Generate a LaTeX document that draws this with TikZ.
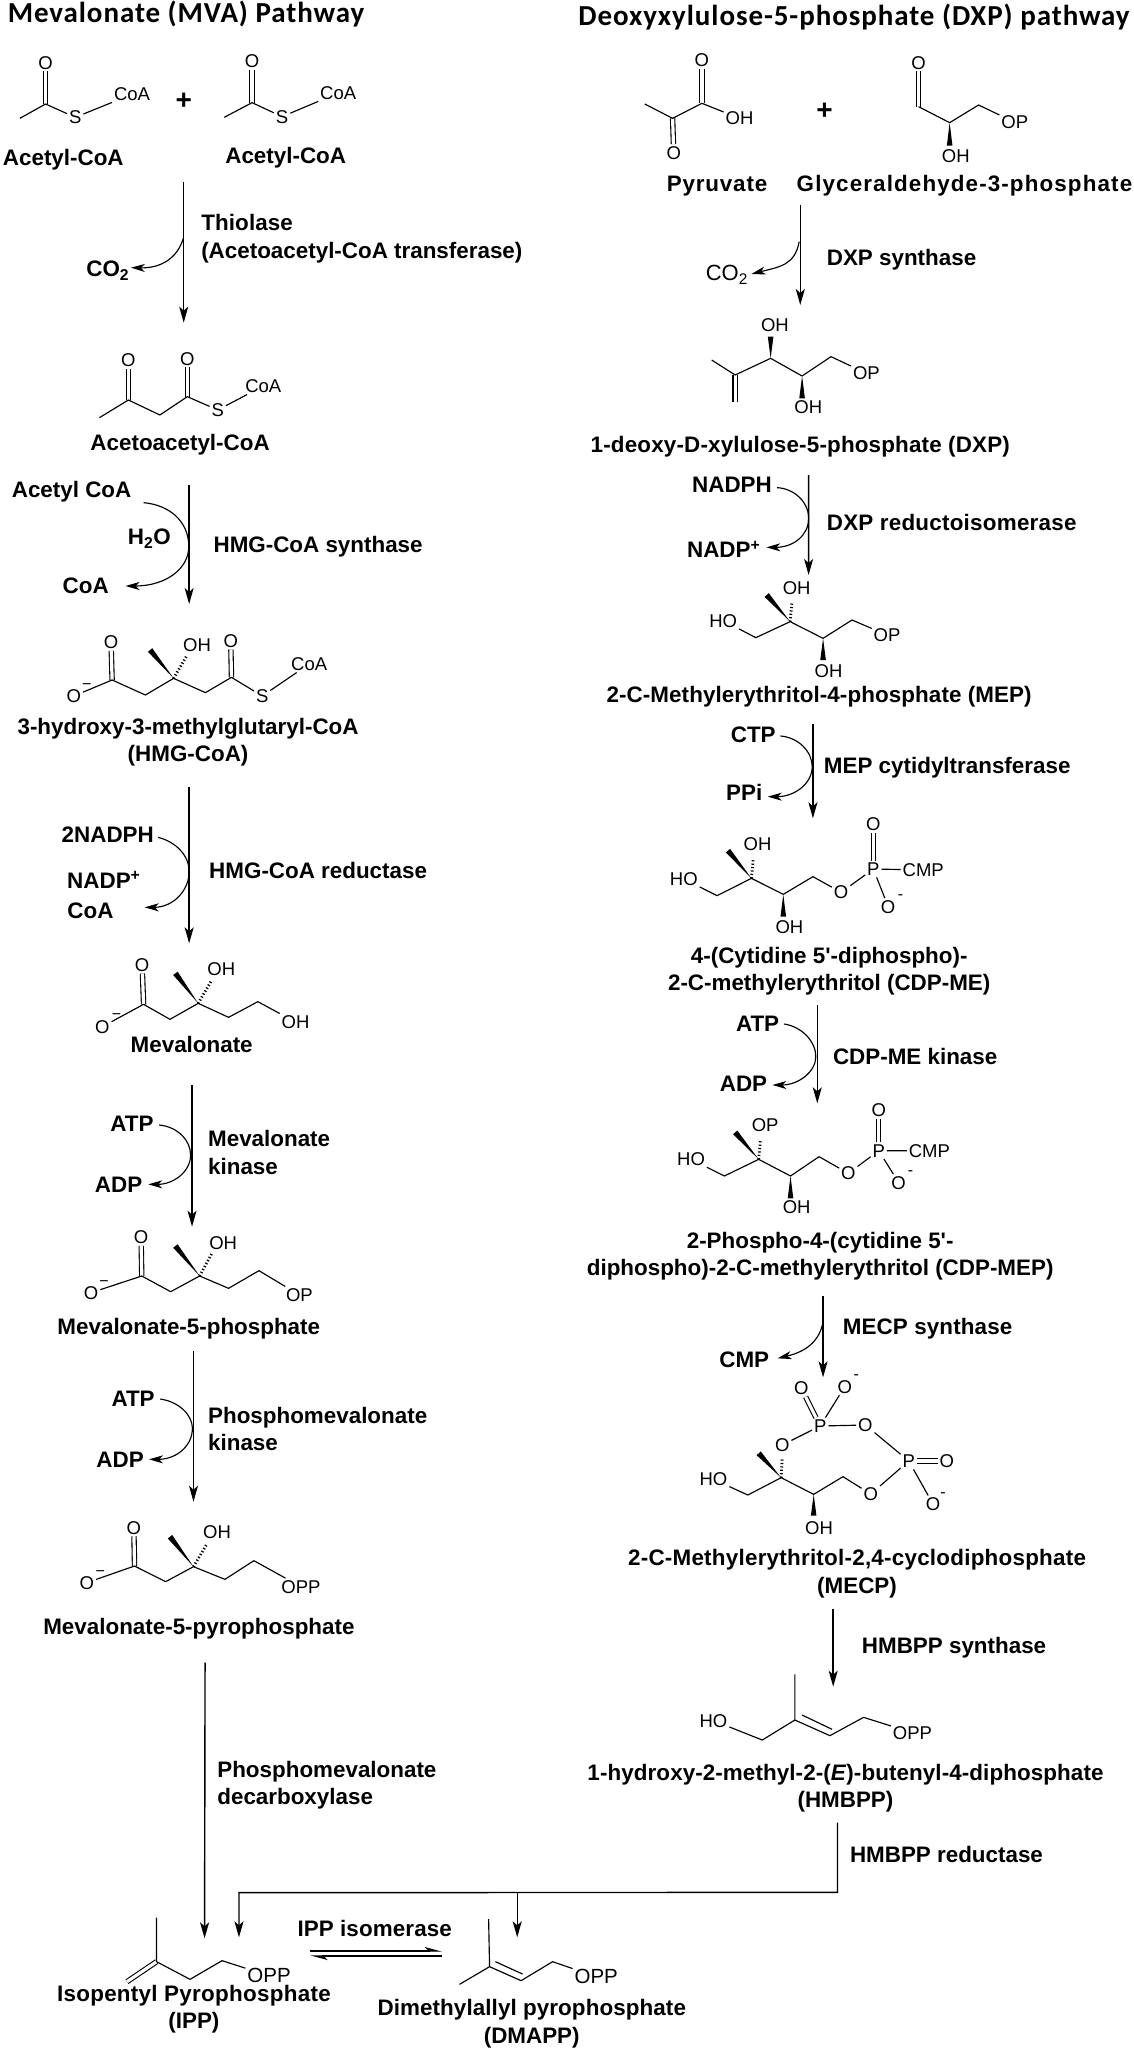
\documentclass[tikz,border=0pt]{standalone}
\usepackage{fontspec}
\setmainfont{Liberation Sans}
\newfontfamily\hdrfont{Carlito}[LetterSpace=3.2]
\usetikzlibrary{arrows.meta,calc}
\newcommand\atm[3]{\node[atom] (#1) at (#2) {#3};}
\newcommand\cpt[2]{\coordinate (#1) at (#2);}
\newcommand\wdg[2]{\fill (#1) -- ($(#2)!2.8pt!90:(#1)$) -- ($(#2)!2.8pt!-90:(#1)$) -- cycle;}
\newcommand\lsp[1]{\addfontfeature{LetterSpace=#1}}
\tikzset{
  zA/.style={x=0.36166pt,y=-0.33333pt},
  zB/.style={x=0.48473pt,y=-0.33333pt},
  zC/.style={x=0.33333pt,y=-0.33333pt},
  atom/.style={font=\fontsize{18.5}{20}\selectfont,inner sep=0pt,outer sep=2pt},
  atomb/.style={atom,font=\fontsize{20.5}{22}\selectfont},
  chg/.style={font=\fontsize{16}{18}\selectfont,inner sep=0pt},
  lbl/.style={font=\fontsize{22.4}{27.5}\selectfont\bfseries,inner sep=0pt,align=center},
  lblw/.style={lbl,anchor=west,align=left},
  hdr/.style={font=\fontsize{29}{32}\selectfont\hdrfont\bfseries,inner sep=0pt},
  bond/.style={line width=1.15pt,line join=round},
  dbl/.style={double,double distance=3.2pt,line width=1.1pt},
  hashb/.style={line width=2.8pt,dash pattern=on 1.2pt off 2.2pt},
  rxn/.style={line width=1.4pt,-{Stealth[length=16pt,width=9pt,inset=4pt]}},
  side/.style={line width=1.15pt,-{Stealth[length=14pt,width=8pt,inset=4pt]}},
  eqm/.style={line width=1.3pt,-{Stealth[harpoon,length=15pt,width=8pt,inset=4pt]}},
}
\begin{document}
\begin{tikzpicture}[x=1pt,y=-1pt]
\useasboundingbox (0,0) rectangle (1134,2050);
\fill[white] (0,0) rectangle (1134,2050);
\node[hdr] (hl) at (186,14) {Mevalonate (MVA) Pathway};
\node[hdr] (hr) at (854,17) {Deoxyxylulose-5-phosphate (DXP) pathway};

% ---------- frame 1: top left
\begin{scope}[zA]
\atm{a1o}{126,188}{O}\cpt{a1c}{126,312}\cpt{a1m}{55,355}\atm{a1s}{208,352}{S}\atm{a1r}{365,283}{CoA}
\draw[dbl] (a1c) -- (a1o); \draw[bond] (a1m) -- (a1c) -- (a1s) -- (a1r);
\atm{a2o}{697,184}{O}\cpt{a2c}{697,308}\cpt{a2m}{620,352}\atm{a2s}{780,350}{S}\atm{a2r}{935,279}{CoA}
\draw[dbl] (a2c) -- (a2o); \draw[bond] (a2m) -- (a2c) -- (a2s) -- (a2r);
\node[lbl,font=\fontsize{28}{30}\selectfont\bfseries] (plus1) at (508,303) {+};
\node[lbl] (l1) at (175,478) {Acetyl-CoA};
\node[lbl] (l2) at (790,472) {Acetyl-CoA};
\cpt{r1s}{508,547}\cpt{r1e}{508,968}\cpt{r1b}{507,715}
\node[lbl] (co2a) at (298,812) {CO\textsubscript{2}};
\cpt{r1t}{362,803}
\draw[rxn] (r1s) -- (r1e);
\draw[side] (r1b) .. controls (490,775) and (445,805) .. (r1t);
\node[lblw] (e1) at (556,716) {\lsp{0.5}Thiolase\\(Acetoacetyl-CoA transferase)};
\atm{b1o}{355,1080}{O}\cpt{b1c}{355,1200}\cpt{b1m}{275,1253}\cpt{b1d}{442,1245}\cpt{b1e}{518,1190}
\atm{b2o}{518,1076}{O}\atm{b1s}{602,1230}{S}\atm{b1r}{728,1158}{CoA}
\draw[dbl] (b1c) -- (b1o); \draw[dbl] (b1e) -- (b2o);
\draw[bond] (b1m) -- (b1c) -- (b1d) -- (b1e) -- (b1s) -- (b1r);
\node[lbl] (l3) at (498,1333) {Acetoacetyl-CoA};
\cpt{r2s}{523,1455}
\node[lbl] (acc) at (198,1475) {Acetyl CoA};
\end{scope}

% ---------- frame 3: left, y from 500
\begin{scope}[shift={(0,500)},zA]
\cpt{r2e}{523,312}\draw[rxn] (r2s) -- (r2e);
\cpt{r2a}{397,8}\cpt{r2m}{522,140}\cpt{r2t}{347,258}
\draw[side] (r2a) .. controls (470,15) and (522,65) .. (r2m) .. controls (522,205) and (460,258) .. (r2t);
\node[lbl] (h2o) at (413,117) {H\textsubscript{2}O};
\node[lbl] (coa2) at (237,256) {CoA};
\node[lblw] (e2) at (590,140) {HMG-CoA synthase};
\atm{c1o}{307,427}{O}\cpt{c1c}{310,540}\atm{c1n}{204,588}{O}\node[chg] (c1g) at (240,560) {−};
\cpt{c1d}{402,585}\cpt{c1q}{480,535}\cpt{c1w}{415,450}\cpt{c1h}{515,470}\atm{c1h2}{545,435}{OH}
\cpt{c1f}{568,578}\cpt{c1k}{640,532}\atm{c2o}{638,423}{O}\atm{c1s}{725,588}{S}\atm{c1r}{855,492}{CoA}
\draw[dbl] (c1c) -- (c1o); \draw[dbl] (c1k) -- (c2o);
\draw[bond] (c1n) -- (c1c) -- (c1d) -- (c1q) -- (c1f) -- (c1k) -- (c1s) -- (c1r);
\wdg{c1q}{c1w} \draw[hashb] (c1q) -- (c1h);
\node[lbl] (l4) at (520,726) {3-hydroxy-3-methylglutaryl-CoA\\(HMG-CoA)};
\cpt{r3s}{523,862}\cpt{r3e}{523,1330}\draw[rxn] (r3s) -- (r3e);
\node[lbl] (nadph1) at (298,1003) {2NADPH};
\cpt{r3a}{437,1012}\cpt{r3m}{523,1115}\cpt{r3t}{400,1222}
\draw[side] (r3a) .. controls (485,1025) and (523,1065) .. (r3m) .. controls (523,1170) and (480,1222) .. (r3t);
\node[lbl] (nadp1) at (287,1140) {NADP\textsuperscript{+}};
\node[lbl] (coa3) at (250,1233) {CoA};
\node[lblw] (e3) at (578,1110) {HMG-CoA reductase};
\end{scope}

% ---------- mevalonate, y from 940
\begin{scope}[shift={(0,940)},zA]
\atm{d1o}{393,75}{O}\cpt{d1c}{397,193}\atm{d1n}{283,260}{O}\node[chg] (d1g) at (322,230) {−};
\cpt{d1d}{470,238}\cpt{d1q}{548,190}\cpt{d1w}{485,100}\cpt{d1h}{583,125}\atm{d1h2}{612,88}{OH}
\cpt{d1f}{632,232}\cpt{d1k}{713,185}\atm{d1e}{817,246}{OH}
\draw[dbl] (d1c) -- (d1o);
\draw[bond] (d1n) -- (d1c) -- (d1d) -- (d1q) -- (d1f) -- (d1k) -- (d1e);
\wdg{d1q}{d1w} \draw[hashb] (d1q) -- (d1h);
\node[lbl] (l5) at (530,312) {Mevalonate};
\end{scope}

% ---------- frame 5: left, y from 1000
\begin{scope}[shift={(0,1000)},zA]
\cpt{r4s}{531,255}\cpt{r4e}{531,680}\draw[rxn] (r4s) -- (r4e);
\node[lbl] (atp1) at (365,370) {ATP};
\cpt{r4a}{440,375}\cpt{r4m}{527,465}\cpt{r4t}{410,553}
\draw[side] (r4a) .. controls (490,380) and (527,420) .. (r4m) .. controls (527,515) and (480,553) .. (r4t);
\node[lbl] (adp1) at (328,553) {ADP};
\node[lblw] (e4) at (575,458) {Mevalonate\\kinase};
\atm{f1o}{390,712}{O}\cpt{f1c}{392,828}\atm{f1n}{252,878}{O}\node[chg] (f1g) at (288,850) {−};
\cpt{f1d}{472,875}\cpt{f1q}{552,828}\cpt{f1w}{485,738}\cpt{f1h}{585,762}\atm{f1h2}{617,728}{OH}
\cpt{f1f}{632,865}\cpt{f1k}{716,812}\atm{f1e}{828,885}{OP}
\draw[dbl] (f1c) -- (f1o);
\draw[bond] (f1n) -- (f1c) -- (f1d) -- (f1q) -- (f1f) -- (f1k) -- (f1e);
\wdg{f1q}{f1w} \draw[hashb] (f1q) -- (f1h);
\node[lbl] (l6) at (522,985) {Mevalonate-5-phosphate};
\end{scope}

% ---------- frame 9: left, y from 1340
\begin{scope}[shift={(0,1340)},zA]
\cpt{r5s}{535,33}\cpt{r5e}{535,485}\draw[rxn] (r5s) -- (r5e);
\node[lbl] (atp2) at (368,175) {ATP};
\cpt{r5a}{443,177}\cpt{r5m}{532,265}\cpt{r5t}{412,358}
\draw[side] (r5a) .. controls (495,185) and (532,225) .. (r5m) .. controls (532,320) and (485,358) .. (r5t);
\node[lbl] (adp2) at (332,358) {ADP};
\node[lblw] (e5) at (575,267) {Phosphomevalonate\\kinase};
\atm{g1o}{370,563}{O}\cpt{g1c}{372,678}\atm{g1n}{240,728}{O}\node[chg] (g1g) at (277,700) {−};
\cpt{g1d}{458,725}\cpt{g1q}{535,680}\cpt{g1w}{470,590}\cpt{g1h}{572,612}\atm{g1h2}{600,577}{OH}
\cpt{g1f}{622,718}\cpt{g1k}{702,662}\atm{g1e}{832,740}{OPP}
\draw[dbl] (g1c) -- (g1o);
\draw[bond] (g1n) -- (g1c) -- (g1d) -- (g1q) -- (g1f) -- (g1k) -- (g1e);
\wdg{g1q}{g1w} \draw[hashb] (g1q) -- (g1h);
\node[lbl] (l7) at (550,867) {Mevalonate-5-pyrophosphate};
\cpt{r6s}{567,968}
\end{scope}

% ---------- frame 2: top right
\begin{scope}[shift={(567,0)},zA]
\atm{p1o}{373,180}{O}\cpt{p1c}{373,310}\cpt{p1m}{215,312}\cpt{p1k}{292,355}\atm{p2o}{295,458}{O}\atm{p1h}{477,355}{OH}
\draw[dbl] (p1c) -- (p1o); \draw[dbl] (p1k) -- (p2o);
\draw[bond] (p1m) -- (p1k) -- (p1c) -- (p1h);
\node[lbl,font=\fontsize{28}{30}\selectfont\bfseries] (plus2) at (712,333) {+};
\atm{q1o}{972,188}{O}\cpt{q1c}{972,320}\cpt{q1q}{1058,368}\cpt{q1w}{1058,437}\atm{q1h}{1075,467}{OH}
\cpt{q1k}{1138,315}\atm{q1e}{1238,367}{OP}
\draw[dbl] (q1c) -- (q1o);
\draw[bond] (q1c) -- (q1q) -- (q1k) -- (q1e);
\wdg{q1q}{q1w}
\node[lbl] (l8) at (415,558) {\lsp{3.6}Pyruvate};
\node[lbl] (l9) at (1099,558) {\lsp{5}Glyceraldehyde-3-phosphate};
\cpt{s1s}{645,615}\cpt{s1e}{645,915}\draw[rxn] (s1s) -- (s1e);
\node[atomb,font=\fontsize{22}{24}\selectfont,outer sep=0pt] (co2b) at (442,825) {CO\textsubscript{2}};
\cpt{s1b}{642,725}\cpt{s1t}{510,822}
\draw[side] (s1b) .. controls (630,795) and (590,800) .. (s1t);
\node[lblw] (e6) at (718,780) {DXP synthase};
\atm{t1h}{575,975}{OH}\cpt{t1w}{563,1010}\cpt{t1q}{563,1075}\cpt{t1m}{400,1080}\cpt{t1k}{465,1125}\cpt{t1d}{465,1205}
\cpt{t1r}{650,1128}\cpt{t1v}{650,1195}\atm{t2h}{667,1222}{OH}\cpt{t1f}{730,1070}\atm{t1e}{828,1120}{OP}
\draw[dbl] (t1k) -- (t1d);
\draw[bond] (t1m) -- (t1k) -- (t1q) -- (t1r) -- (t1f) -- (t1e);
\wdg{t1q}{t1w} \wdg{t1r}{t1v}
\node[lbl] (l10) at (645,1340) {\lsp{0.8}1-deoxy-D-xylulose-5-phosphate (DXP)};
\end{scope}

% ---------- frame 12
\begin{scope}[shift={(567,460)},zC]
\cpt{s2s}{725,45}
\node[lbl] (nadph2) at (495,75) {NADPH};
\cpt{s2a}{630,83}\cpt{s2m}{725,175}\cpt{s2t}{598,262}
\draw[side] (s2a) .. controls (680,85) and (725,125) .. (s2m) .. controls (725,225) and (680,262) .. (s2t);
\node[lbl] (nadp2) at (470,268) {NADP\textsuperscript{+}};
\end{scope}

% ---------- frame 4: right, y from 500
\begin{scope}[shift={(567,500)},zA]
\cpt{s2e}{668,225}\draw[rxn] (s2s) -- (s2e);
\node[lblw] (e7) at (718,68) {\lsp{1.1}DXP reductoisomerase};
\atm{u1h}{635,265}{OH}\cpt{u1u}{622,305}\cpt{u1q}{617,365}\cpt{u1w}{552,285}\atm{u1a}{432,362}{HO}\cpt{u1d}{522,413}
\cpt{u1r}{708,415}\cpt{u1v}{708,480}\atm{u2h}{723,512}{OH}\cpt{u1f}{788,360}\atm{u1e}{885,405}{OP}
\draw[bond] (u1a) -- (u1d) -- (u1q) -- (u1r) -- (u1f) -- (u1e);
\wdg{u1q}{u1w} \wdg{u1r}{u1v} \draw[hashb] (u1q) -- (u1u);
\node[lbl] (l11) at (697,590) {\lsp{0.4}2-C-Methylerythritol-4-phosphate (MEP)};
\cpt{s3s}{680,673}\cpt{s3e}{680,955}\draw[rxn] (s3s) -- (s3e);
\node[lbl] (ctp) at (515,703) {CTP};
\cpt{s3a}{590,708}\cpt{s3m}{678,800}\cpt{s3t}{555,890}
\draw[side] (s3a) .. controls (640,712) and (678,755) .. (s3m) .. controls (678,850) and (630,890) .. (s3t);
\node[lbl] (ppi) at (490,877) {PPi};
\node[lblw] (e8) at (710,803) {MEP cytidyltransferase};
\atm{v1h}{527,1032}{OH}\cpt{v1u}{515,1075}\cpt{v1q}{510,1135}\cpt{v1w}{445,1052}\atm{v1a}{323,1137}{HO}\cpt{v1d}{415,1187}
\cpt{v1r}{598,1183}\cpt{v1v}{598,1250}\atm{v2h}{615,1280}{OH}\cpt{v1f}{680,1130}\atm{v1o}{758,1177}{O}
\atm{v1p}{847,1107}{P}\atm{v2o}{847,973}{O}\atm{v1m}{985,1110}{CMP}\atm{v3o}{888,1220}{O}\node[chg] (v3g) at (922,1190) {-};
\draw[dbl] (v1p) -- (v2o);
\draw[bond] (v1a) -- (v1d) -- (v1q) -- (v1r) -- (v1f) -- (v1o) -- (v1p) -- (v1m);
\draw[bond] (v1p) -- (v3o);
\wdg{v1q}{v1w} \wdg{v1r}{v1v} \draw[hashb] (v1q) -- (v1u);
\node[lbl] (l12) at (725,1414) {4-(Cytidine 5\textquotesingle-diphospho)-\\2-C-methylerythritol (CDP-ME)};
\end{scope}

% ---------- frame 6: right, y from 1000
\begin{scope}[shift={(567,1000)},zA]
\cpt{s4s}{692,15}\cpt{s4e}{692,310}\draw[rxn] (s4s) -- (s4e);
\node[lbl] (atp3) at (527,72) {ATP};
\cpt{s4a}{600,72}\cpt{s4m}{688,170}\cpt{s4t}{568,255}
\draw[side] (s4a) .. controls (650,80) and (688,125) .. (s4m) .. controls (688,215) and (640,255) .. (s4t);
\node[lbl] (adp3) at (488,250) {ADP};
\node[lblw] (e9) at (735,170) {CDP-ME kinase};
\atm{w1h}{548,375}{OP}\cpt{w1u}{535,418}\cpt{w1q}{530,478}\cpt{w1w}{465,397}\atm{w1a}{343,478}{HO}\cpt{w1d}{435,528}
\cpt{w1r}{618,528}\cpt{w1v}{618,595}\atm{w2h}{635,622}{OH}\cpt{w1f}{697,470}\atm{w1o}{778,520}{O}
\atm{w1p}{862,452}{P}\atm{w2o}{862,330}{O}\atm{w1m}{1002,452}{CMP}\atm{w3o}{917,548}{O}\node[chg] (w3g) at (950,520) {-};
\draw[dbl] (w1p) -- (w2o);
\draw[bond] (w1a) -- (w1d) -- (w1q) -- (w1r) -- (w1f) -- (w1o) -- (w1p) -- (w1m);
\draw[bond] (w1p) -- (w3o);
\wdg{w1q}{w1w} \wdg{w1r}{w1v} \draw[hashb] (w1q) -- (w1u);
\node[lbl] (l13) at (700,768) {2-Phospho-4-(cytidine 5\textquotesingle-\\diphospho)-2-C-methylerythritol (CDP-MEP)};
\cpt{s5s}{708,887}
\node[lblw] (e10) at (762,987) {\lsp{0.6}MECP synthase};
\end{scope}

% ---------- frame 7: right, y from 1350
\begin{scope}[shift={(567,1350)},zA]
\cpt{s5e}{708,82}\draw[rxn] (s5s) -- (s5e);
\cpt{s5b}{706,-75}\cpt{s5t}{582,25}
\draw[side] (s5b) .. controls (695,-25) and (660,5) .. (s5t);
\node[lbl] (cmp) at (490,30) {CMP};
\atm{x1a}{648,115}{O}\atm{x1b}{768,110}{O}\node[chg] (x1g) at (800,82) {-};
\atm{x1p}{700,228}{P}\atm{x1c}{825,225}{O}\atm{x1d}{595,285}{O}\atm{x2p}{945,333}{P}\atm{x1e}{1050,333}{O}
\atm{x1f}{1012,462}{O}\node[chg] (x2g) at (1040,435) {-};\atm{x1i}{840,432}{O}
\cpt{x1q}{592,383}\cpt{x1u}{595,325}\cpt{x1w}{530,310}\atm{x1h}{405,388}{HO}\cpt{x1k}{500,435}
\cpt{x1r}{682,433}\cpt{x1v}{682,497}\atm{x2h}{697,533}{OH}\cpt{x1m}{763,380}
\draw[dbl] (x1p) -- (x1a); \draw[dbl] (x2p) -- (x1e);
\draw[bond] (x1p) -- (x1b);
\draw[bond] (x1d) -- (x1p) -- (x1c) -- (x2p) -- (x1i) -- (x1m) -- (x1r) -- (x1q) -- (x1k) -- (x1h);
\draw[bond] (x2p) -- (x1f);
\wdg{x1q}{x1w} \wdg{x1r}{x1v} \draw[hashb] (x1q) -- (x1u);
\node[lbl] (l14) at (802,671) {\lsp{1.1}2-C-Methylerythritol-2,4-cyclodiphosphate\\(MECP)};
\cpt{s6s}{736,776}\cpt{s6e}{736,1010}\draw[rxn] (s6s) -- (s6e);
\node[lblw] (e11) at (815,892) {HMBPP synthase};
\cpt{y1m}{630,973}
\end{scope}

% ---------- frame 11: right, y from 1700
\begin{scope}[shift={(567,1700)},zA]
\cpt{y1c}{630,60}\atm{y1h}{405,62}{HO}\cpt{y1d}{540,120}\cpt{y1k}{727,107}\cpt{y1f}{820,52}\atm{y1e}{955,98}{OPP}
\cpt{y2a}{650,45}\cpt{y2b}{733,88}
\draw[bond] (y1m) -- (y1c) -- (y1d) -- (y1h);
\draw[bond] (y1c) -- (y1k) -- (y1f) -- (y1e);
\draw[bond] (y2a) -- (y2b);
\node[lbl] (l15) at (770,264) {\lsp{0.4}1-hydroxy-2-methyl-2-(\textit{E})-butenyl-4-diphosphate\\(HMBPP)};
\cpt{z1s}{748,368}\cpt{z1c}{748,577}
\node[lblw] (e12) at (782,463) {HMBPP reductase};
\end{scope}

% ---------- frame 8: bottom, y from 1750
\begin{scope}[shift={(0,1750)},zB]
\cpt{r6e}{422,565}\draw[rxn] (r6s) -- (r6e);
\node[lblw] (e13) at (448,106) {Phosphomevalonate\\decarboxylase};
\cpt{z1l}{493,428}\cpt{z1t}{493,562}\cpt{z2s}{1067,428}\cpt{z2t}{1067,562}
\draw[rxn] (z1s) -- (z1c) -- (z1l) -- (z1t);
\draw[rxn] (z2s) -- (z2t);
\cpt{i1m}{323,503}\cpt{i1c}{323,635}\cpt{i1e}{262,695}\cpt{i1d}{392,688}\cpt{i1f}{458,632}
\node[atomb] (i1o) at (555,677) {OPP};
\draw[dbl] (i1c) -- (i1e);
\draw[bond] (i1m) -- (i1c) -- (i1d) -- (i1f) -- (i1o);
\node[lbl] (l16) at (400,778) {\lsp{1.3}Isopentyl Pyrophosphate\\(IPP)};
\node[lbl] (e14) at (773,535) {\lsp{0.5}IPP isomerase};
\cpt{q1a}{640,603}\cpt{q1b}{912,603}\cpt{q2a}{912,618}\cpt{q2b}{640,618}
\draw[eqm] (q1a) -- (q1b); \draw[eqm] (q2a) -- (q2b);
\cpt{j1m}{1008,507}\cpt{j1c}{1010,650}\cpt{j1e}{948,703}\cpt{j1k}{1075,692}\cpt{j1f}{1140,635}
\node[atomb] (j1o) at (1230,680) {OPP};
\cpt{j2a}{1022,635}\cpt{j2b}{1078,672}
\draw[bond] (j1m) -- (j1c) -- (j1e);
\draw[bond] (j1c) -- (j1k) -- (j1f) -- (j1o);
\draw[bond] (j2a) -- (j2b);
\node[lbl] (l17) at (1097,821) {\lsp{0.4}Dimethylallyl pyrophosphate\\(DMAPP)};
\end{scope}
\end{tikzpicture}
\end{document}
